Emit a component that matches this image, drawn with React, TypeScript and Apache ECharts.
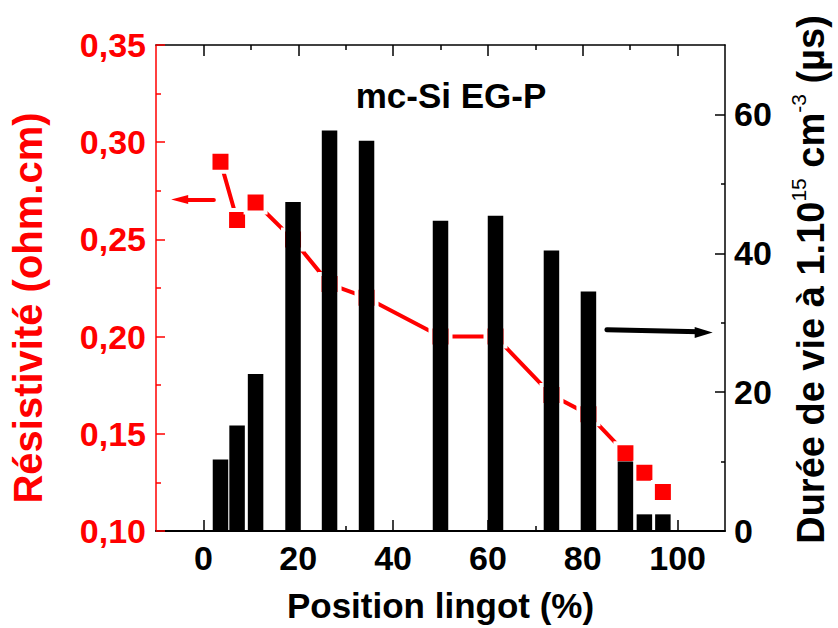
import React, { useEffect, useRef } from 'react';
import * as echarts from 'echarts';

// Position in the ingot (%)
const positions = [3.6, 7.1, 11.0, 18.9, 26.6, 34.4, 50.0, 61.6, 73.4, 81.2, 89.0, 93.0, 96.9];
// Lifetime at 1.10^15 cm^-3 (µs)
const lifetimes = [10.3, 15.2, 22.6, 47.4, 57.7, 56.2, 44.7, 45.4, 40.4, 34.5, 10.0, 2.4, 2.4];
// Resistivity (ohm.cm)
const resistivities = [0.29, 0.26, 0.269, 0.25, 0.227, 0.22, 0.2, 0.2, 0.17, 0.16, 0.14, 0.13, 0.12];

const xMajorValues = [0, 20, 40, 60, 80, 100];
const xMinorValues = [10, 30, 50, 70, 90];
const rightMajorValues = [0, 20, 40, 60];
const rightMinorValues = [10, 30, 50];

// annotation arrows (data coordinates)
const leftArrowLine = [[2.2, 0.2705], [-4.0, 0.2705]];
const leftArrowTip = [-6.8, 0.2705];
const rightArrowLine = [[85.1, 29.0], [104.5, 28.7]];
const rightArrowTip = [107.4, 28.6];

const RED = '#ff0000';
const BLACK = '#000000';
const FONT = '"Liberation Sans", Arial, Helvetica, sans-serif';

export default function App() {
  const ref = useRef<HTMLDivElement>(null);

  useEffect(() => {
    if (!ref.current) return;
    const chart = echarts.init(ref.current, null, { renderer: 'svg' });

    const xBase = {
      type: 'value',
      gridIndex: 0,
      min: -10,
      max: 110,
      interval: 10,
      splitLine: { show: false },
    };
    const tickLine = { color: BLACK, width: 1.5 };

    const option: any = {
      animation: false,
      backgroundColor: '#ffffff',
      grid: { left: 155, right: 109, top: 45, bottom: 95, containLabel: false },
      graphic: [
        {
          type: 'text',
          x: 451,
          y: 95,
          style: {
            text: 'mc-Si EG-P',
            fontFamily: FONT,
            fontWeight: 'bold',
            fontSize: 35,
            fill: BLACK,
            textAlign: 'center',
            textVerticalAlign: 'middle',
          },
        },
      ],
      xAxis: [
        {
          ...xBase,
          position: 'bottom',
          axisLine: { show: true, onZero: false, lineStyle: { color: BLACK, width: 2 } },
          axisTick: { show: true, inside: true, length: 11, customValues: xMajorValues, lineStyle: tickLine },
          axisLabel: {
            show: true,
            customValues: xMajorValues,
            color: BLACK,
            fontFamily: FONT,
            fontWeight: 'bold',
            fontSize: 34,
            margin: 10,
          },
          name: 'Position lingot (%)',
          nameLocation: 'middle',
          nameGap: 57,
          nameTextStyle: { color: BLACK, fontFamily: FONT, fontWeight: 'bold', fontSize: 35 },
        },
        {
          ...xBase,
          position: 'bottom',
          axisLine: { show: false, onZero: false },
          axisTick: { show: true, inside: true, length: 5, customValues: xMinorValues, lineStyle: tickLine },
          axisLabel: { show: false },
        },
        {
          ...xBase,
          position: 'top',
          axisLine: { show: true, onZero: false, lineStyle: { color: BLACK, width: 1.5 } },
          axisTick: { show: true, inside: true, length: 11, customValues: xMajorValues, lineStyle: tickLine },
          axisLabel: { show: false },
        },
        {
          ...xBase,
          position: 'top',
          axisLine: { show: false, onZero: false },
          axisTick: { show: true, inside: true, length: 5, customValues: xMinorValues, lineStyle: tickLine },
          axisLabel: { show: false },
        },
      ],
      yAxis: [
        {
          type: 'value',
          position: 'left',
          min: 0.1,
          max: 0.35,
          interval: 0.05,
          splitLine: { show: false },
          axisLine: { show: true, onZero: false, lineStyle: { color: RED, width: 1.5 } },
          axisTick: { show: true, inside: true, length: 9, lineStyle: { color: RED, width: 1.5 } },
          minorTick: { show: true, splitNumber: 2, length: 5, lineStyle: { color: RED, width: 1.5 } },
          axisLabel: {
            color: RED,
            fontFamily: FONT,
            fontWeight: 'bold',
            fontSize: 34,
            margin: 10,
            formatter: (v: number) => v.toFixed(2).replace('.', ','),
          },
          name: 'Résistivité (ohm.cm)',
          nameLocation: 'middle',
          nameRotate: 90,
          nameGap: 108,
          nameTextStyle: {
            color: RED,
            fontFamily: FONT,
            fontWeight: 'bold',
            fontSize: 40,
            padding: [0, 40, 0, 0],
          },
        },
        {
          type: 'value',
          position: 'right',
          min: 0,
          max: 70,
          interval: 10,
          splitLine: { show: false },
          axisLine: { show: true, onZero: false, lineStyle: { color: BLACK, width: 1.5 } },
          axisTick: { show: true, inside: true, length: 10, customValues: rightMajorValues, lineStyle: tickLine },
          axisLabel: {
            customValues: rightMajorValues,
            color: BLACK,
            fontFamily: FONT,
            fontWeight: 'bold',
            fontSize: 34,
            margin: 9,
          },
          name: 'Durée de vie à 1.10{sup|15} cm{sup|-3} (µs)',
          nameLocation: 'middle',
          nameRotate: 90,
          nameGap: 63,
          nameTextStyle: {
            color: BLACK,
            fontFamily: FONT,
            fontWeight: 'bold',
            fontSize: 38,
            padding: [0, 0, 0, 17],
            rich: {
              sup: {
                color: BLACK,
                fontFamily: FONT,
                fontWeight: 'normal',
                fontSize: 21,
                padding: [0, 0, 25, 0],
              },
            },
          },
        },
        {
          type: 'value',
          position: 'right',
          min: 0,
          max: 70,
          interval: 10,
          splitLine: { show: false },
          axisLine: { show: false, onZero: false },
          axisTick: { show: true, inside: true, length: 4, customValues: rightMinorValues, lineStyle: tickLine },
          axisLabel: { show: false },
        },
      ],
      series: [
        {
          name: 'Résistivité',
          type: 'line',
          xAxisIndex: 0,
          yAxisIndex: 0,
          z: 2,
          data: positions.map((x, i) => [x, resistivities[i]]),
          lineStyle: { color: RED, width: 4 },
          symbol: 'rect',
          symbolSize: 20,
          itemStyle: { color: RED, borderColor: '#ffffff', borderWidth: 4 },
          markLine: {
            silent: true,
            symbol: ['none', 'none'],
            label: { show: false },
            lineStyle: { color: RED, width: 4, type: 'solid', cap: 'round' },
            data: [[{ coord: leftArrowLine[0] }, { coord: leftArrowLine[1] }]],
          },
          markPoint: {
            silent: true,
            symbol: 'path://M16,0L0,5L16,10Z',
            symbolSize: [17, 9],
            symbolOffset: ['50%', 0],
            label: { show: false },
            itemStyle: { color: RED },
            data: [{ coord: leftArrowTip }],
          },
        },
        {
          name: 'Durée de vie',
          type: 'bar',
          xAxisIndex: 0,
          yAxisIndex: 1,
          z: 3,
          barWidth: 15.5,
          data: positions.map((x, i) => [x, lifetimes[i]]),
          itemStyle: { color: BLACK },
          markLine: {
            silent: true,
            symbol: ['none', 'none'],
            label: { show: false },
            lineStyle: { color: BLACK, width: 5, type: 'solid', cap: 'round' },
            data: [[{ coord: rightArrowLine[0] }, { coord: rightArrowLine[1] }]],
          },
          markPoint: {
            silent: true,
            symbol: 'path://M0,0L16,5L0,10Z',
            symbolSize: [18, 11],
            symbolOffset: ['-50%', 0],
            label: { show: false },
            itemStyle: { color: BLACK },
            data: [{ coord: rightArrowTip }],
          },
        },
      ],
    };

    chart.setOption(option);
    return () => chart.dispose();
  }, []);

  return (
    <div
      ref={ref}
      style={{ position: 'fixed', left: 0, top: 0, width: 838, height: 628, background: '#fff' }}
    />
  );
}
